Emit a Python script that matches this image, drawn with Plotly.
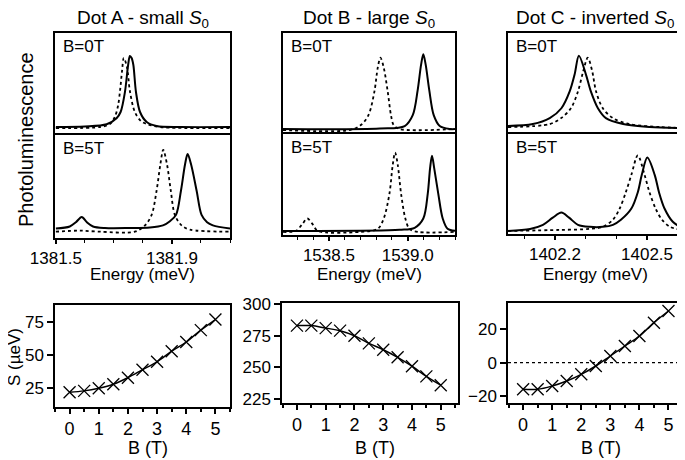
import plotly.graph_objects as go

# ---------------- data ----------------
# Dot A spectra (energy meV, normalized PL)
A0_sol_E = [1381.50, 1381.60, 1381.675, 1381.709, 1381.723, 1381.738, 1381.749, 1381.755, 1381.761, 1381.767, 1381.776, 1381.790, 1381.813, 1381.847, 1381.93, 1382.10]
A0_sol_I = [0.06, 0.065, 0.087, 0.147, 0.21, 0.41, 0.68, 0.77, 0.75, 0.68, 0.41, 0.21, 0.11, 0.07, 0.06, 0.06]
A0_dot_E = [1381.50, 1381.652, 1381.686, 1381.703, 1381.714, 1381.721, 1381.728, 1381.734, 1381.745, 1381.755, 1381.772, 1381.793, 1381.814, 1381.859, 1382.10]
A0_dot_I = [0.05, 0.06, 0.09, 0.16, 0.27, 0.42, 0.62, 0.75, 0.66, 0.42, 0.21, 0.12, 0.09, 0.06, 0.05]
A5_sol_E = [1381.50, 1381.548, 1381.569, 1381.589, 1381.607, 1381.628, 1381.669, 1381.755, 1381.824, 1381.869, 1381.893, 1381.914, 1381.931, 1381.945, 1381.954, 1381.966, 1381.985, 1382.002, 1382.021, 1382.041, 1382.10]
A5_sol_I = [0.09, 0.11, 0.15, 0.20, 0.15, 0.11, 0.095, 0.095, 0.10, 0.12, 0.16, 0.22, 0.45, 0.70, 0.80, 0.70, 0.45, 0.22, 0.15, 0.12, 0.09]
A5_dot_E = [1381.50, 1381.583, 1381.652, 1381.772, 1381.807, 1381.830, 1381.847, 1381.860, 1381.870, 1381.883, 1381.896, 1381.910, 1381.933, 1381.962, 1382.10]
A5_dot_I = [0.06, 0.07, 0.06, 0.06, 0.12, 0.22, 0.45, 0.70, 0.84, 0.70, 0.45, 0.22, 0.12, 0.08, 0.06]

# Dot B spectra
B0_sol_E = [1538.209, 1538.823, 1538.981, 1539.032, 1539.063, 1539.085, 1539.099, 1539.114, 1539.137, 1539.165, 1539.203, 1539.266, 1539.30]
B0_sol_I = [0.03, 0.035, 0.06, 0.17, 0.42, 0.68, 0.785, 0.68, 0.42, 0.17, 0.06, 0.03, 0.03]
B0_dot_E = [1538.209, 1538.633, 1538.703, 1538.751, 1538.789, 1538.810, 1538.827, 1538.848, 1538.873, 1538.894, 1538.911, 1538.949, 1539.30]
B0_dot_I = [0.02, 0.02, 0.07, 0.17, 0.41, 0.65, 0.75, 0.65, 0.41, 0.17, 0.07, 0.03, 0.03]
B5_sol_E = [1538.209, 1538.949, 1539.044, 1539.099, 1539.127, 1539.142, 1539.154, 1539.168, 1539.194, 1539.222, 1539.253, 1539.30]
B5_sol_I = [0.04, 0.05, 0.07, 0.16, 0.40, 0.65, 0.77, 0.65, 0.40, 0.16, 0.06, 0.04]
B5_dot_E = [1538.209, 1538.291, 1538.329, 1538.363, 1538.399, 1538.430, 1538.696, 1538.810, 1538.848, 1538.884, 1538.905, 1538.920, 1538.937, 1538.958, 1538.985, 1539.011, 1539.063, 1539.30]
B5_dot_I = [0.03, 0.04, 0.10, 0.16, 0.10, 0.04, 0.03, 0.06, 0.16, 0.40, 0.68, 0.80, 0.68, 0.40, 0.16, 0.06, 0.03, 0.03]

# Dot C spectra
C0_sol_E = [1402.047, 1402.128, 1402.183, 1402.221, 1402.248, 1402.264, 1402.278, 1402.301, 1402.317, 1402.340, 1402.366, 1402.422, 1402.509, 1402.614]
C0_sol_I = [0.06, 0.08, 0.14, 0.24, 0.41, 0.58, 0.77, 0.58, 0.41, 0.24, 0.14, 0.08, 0.05, 0.04]
C0_dot_E = [1402.047, 1402.183, 1402.220, 1402.252, 1402.275, 1402.291, 1402.307, 1402.321, 1402.334, 1402.356, 1402.389, 1402.443, 1402.542, 1402.614]
C0_dot_I = [0.05, 0.08, 0.14, 0.24, 0.41, 0.60, 0.75, 0.62, 0.41, 0.24, 0.14, 0.08, 0.05, 0.04]
C5_sol_E = [1402.047, 1402.119, 1402.161, 1402.193, 1402.221, 1402.246, 1402.275, 1402.314, 1402.356, 1402.389, 1402.415, 1402.449, 1402.470, 1402.483, 1402.501, 1402.525, 1402.539, 1402.557, 1402.584, 1402.614]
C5_sol_I = [0.03, 0.05, 0.09, 0.16, 0.21, 0.16, 0.09, 0.07, 0.07, 0.09, 0.14, 0.25, 0.41, 0.58, 0.75, 0.58, 0.41, 0.25, 0.12, 0.06]
C5_dot_E = [1402.047, 1402.216, 1402.314, 1402.356, 1402.389, 1402.411, 1402.431, 1402.449, 1402.470, 1402.492, 1402.508, 1402.528, 1402.549, 1402.575, 1402.614]
C5_dot_I = [0.03, 0.04, 0.05, 0.07, 0.14, 0.25, 0.41, 0.58, 0.77, 0.58, 0.41, 0.25, 0.14, 0.07, 0.04]

# Splitting S vs B
B_field = [0, 0.5, 1, 1.5, 2, 2.5, 3, 3.5, 4, 4.5, 5]
S_A = [22, 23, 25, 28, 33, 39, 45, 53, 60, 69, 77]
S_B = [283, 283, 281, 279, 275, 269, 264, 258, 251, 243, 236]
S_C = [-16, -16, -14, -11, -7, -2, 4, 10, 16, 24, 31]

titles = ["Dot A - small <i>S</i><sub>0</sub>", "Dot B - large <i>S</i><sub>0</sub>", "Dot C - inverted <i>S</i><sub>0</sub>"]
E_ranges = [[1381.497, 1382.10], [1538.209, 1539.30], [1402.047, 1402.614]]
E_tick0 = [1381.5, 1538.5, 1402.2]
E_dtick = [0.4, 0.5, 0.3]
E_fmt = [".1f", ".1f", ".1f"]
S_ranges = [[10.8, 88], [222, 300.8], [-24.2, 35.8]]
S_ticks = [[25, 50, 75], [225, 250, 275, 300], [-20, 0, 20]]
B_ranges = [[-0.5, 5.5], [-0.52, 5.6], [-0.52, 5.5]]

# ---------------- layout helpers ----------------
# the page body adds an 8 px margin; positions below are page pixels
OFF = 8
W, H = 685 - OFF, 460 - OFF
def px(p):
    return (p - OFF) / W
def py(p):
    return 1 - (p - OFF) / H
def dx(a, b):
    return [px(a), px(b)]
def dy(top, bot):
    return [py(bot), py(top)]

FONT = "Liberation Sans, Arial, sans-serif"
# pixel boxes: (left, right, top, mid, bottom)
top_boxes = [(55, 230, 33, 133, 238), (283, 455, 33, 132, 235), (508, 682, 33, 132, 234)]
bot_boxes = [(55, 230, 305, 407), (282, 458, 303, 403), (508, 683, 303, 403)]

fig = go.Figure()
layout = dict(template="none", width=W, height=H, autosize=False, margin=dict(l=0, r=0, t=0, b=0, pad=0),
              paper_bgcolor="white", plot_bgcolor="white", showlegend=False,
              font=dict(family=FONT, size=17, color="black"))

spectra = [
    (A0_sol_E, A0_sol_I, A0_dot_E, A0_dot_I, A5_sol_E, A5_sol_I, A5_dot_E, A5_dot_I),
    (B0_sol_E, B0_sol_I, B0_dot_E, B0_dot_I, B5_sol_E, B5_sol_I, B5_dot_E, B5_dot_I),
    (C0_sol_E, C0_sol_I, C0_dot_E, C0_dot_I, C5_sol_E, C5_sol_I, C5_dot_E, C5_dot_I),
]
S_data = [S_A, S_B, S_C]

annotations = []
shapes = []
base = dict(showline=True, linecolor="black", linewidth=1.5, showgrid=False, zeroline=False, automargin=False)

for i in range(3):
    l, r, t, m, b = top_boxes[i]
    up, lo = 2 * i + 1, 2 * i + 2
    # upper sub-panel (draws the divider line as its bottom)
    layout[f"xaxis{up}"] = dict(domain=dx(l, r), range=E_ranges[i], anchor=f"y{up}", showticklabels=False,
                                ticks="", mirror=True, **base)
    layout[f"yaxis{up}"] = dict(domain=dy(t, m), range=[0, 1], anchor=f"x{up}", showticklabels=False,
                                ticks="", mirror=True, **base)
    # lower sub-panel
    layout[f"xaxis{lo}"] = dict(domain=dx(l, r), range=E_ranges[i], anchor=f"y{lo}", mirror=False,
                                tickmode="linear", tick0=E_tick0[i], dtick=E_dtick[i], tickformat=E_fmt[i],
                                ticks="outside", ticklen=4, tickwidth=1.5, tickcolor="black",
                                minor=dict(ticks="outside", ticklen=3, dtick=0.1, tick0=E_tick0[i], tickcolor="black", tickwidth=1.2),
                                tickfont=dict(size=17), **base)
    layout[f"yaxis{lo}"] = dict(domain=dy(m, b), range=[0, 1], anchor=f"x{lo}", showticklabels=False,
                                ticks="", mirror=True, **base)
    sE0, sI0, dE0, dI0, sE5, sI5, dE5, dI5 = spectra[i]
    for (xs, ys, dash, ax) in [(sE0, sI0, "solid", up), (dE0, dI0, "dot", up), (sE5, sI5, "solid", lo), (dE5, dI5, "dot", lo)]:
        fig.add_trace(go.Scatter(x=xs, y=ys, mode="lines", xaxis=f"x{ax}", yaxis=f"y{ax}",
                                 line=dict(color="black", width=2 if dash == "solid" else 1.8, dash=dash,
                                           shape="spline", smoothing=0.9), hoverinfo="skip"))
    # bottom S panel
    bl, br, bt, bb = bot_boxes[i]
    k = 7 + i
    layout[f"xaxis{k}"] = dict(domain=dx(bl, br), range=B_ranges[i], anchor=f"y{k}", mirror=True,
                               tickmode="linear", tick0=0, dtick=1, ticks="outside", ticklen=5, tickwidth=1.5,
                               tickcolor="black", minor=dict(ticks="outside", ticklen=3, dtick=0.5, tick0=0, tickcolor="black"),
                               tickfont=dict(size=18), **base)
    layout[f"yaxis{k}"] = dict(domain=dy(bt, bb), range=S_ranges[i], anchor=f"x{k}", mirror=True,
                               tickmode="array", tickvals=S_ticks[i], ticks="outside", ticklen=6, tickwidth=1.5,
                               tickcolor="black", tickfont=dict(size=17), **base)
    fig.add_trace(go.Scatter(x=B_field, y=S_data[i], mode="lines+markers", xaxis=f"x{k}", yaxis=f"y{k}",
                             line=dict(color="black", width=1.5, shape="spline", smoothing=1.0),
                             marker=dict(symbol="x-thin", size=12, color="black", line=dict(color="black", width=1.3)),
                             hoverinfo="skip"))
    # titles & labels
    annotations.append(dict(text=titles[i], x=px((l + r) / 2), y=py(19), xref="paper", yref="paper",
                            showarrow=False, font=dict(size=19), xanchor="center", yanchor="middle"))
    annotations.append(dict(text="B=0T", x=px(l + 6), y=py(46), xref="paper", yref="paper",
                            showarrow=False, font=dict(size=17), xanchor="left", yanchor="middle"))
    annotations.append(dict(text="B=5T", x=px(l + 6), y=py(m + 15), xref="paper", yref="paper",
                            showarrow=False, font=dict(size=17), xanchor="left", yanchor="middle"))
    annotations.append(dict(text="Energy (meV)", x=px((l + r) / 2), y=py(274), xref="paper", yref="paper",
                            showarrow=False, font=dict(size=17), xanchor="center", yanchor="middle"))
    annotations.append(dict(text="B (T)", x=px((bl + br) / 2 + 5), y=py(448), xref="paper", yref="paper",
                            showarrow=False, font=dict(size=18), xanchor="center", yanchor="middle"))

annotations.append(dict(text="Photoluminescence", x=px(26), y=py(140), xref="paper", yref="paper",
                        showarrow=False, textangle=-90, font=dict(size=20), xanchor="center", yanchor="middle"))
annotations.append(dict(text="S (µeV)", x=px(14), y=py(357), xref="paper", yref="paper",
                        showarrow=False, textangle=-90, font=dict(size=17), xanchor="center", yanchor="middle"))

zero_level = 0
shapes.append(dict(type="line", xref="x9 domain", yref="y9", x0=0, x1=1, y0=zero_level, y1=zero_level,
                   line=dict(color="black", width=1.2, dash="dot")))

layout["annotations"] = annotations
layout["shapes"] = shapes
fig.update_layout(**layout)
fig.write_html("out.html")
